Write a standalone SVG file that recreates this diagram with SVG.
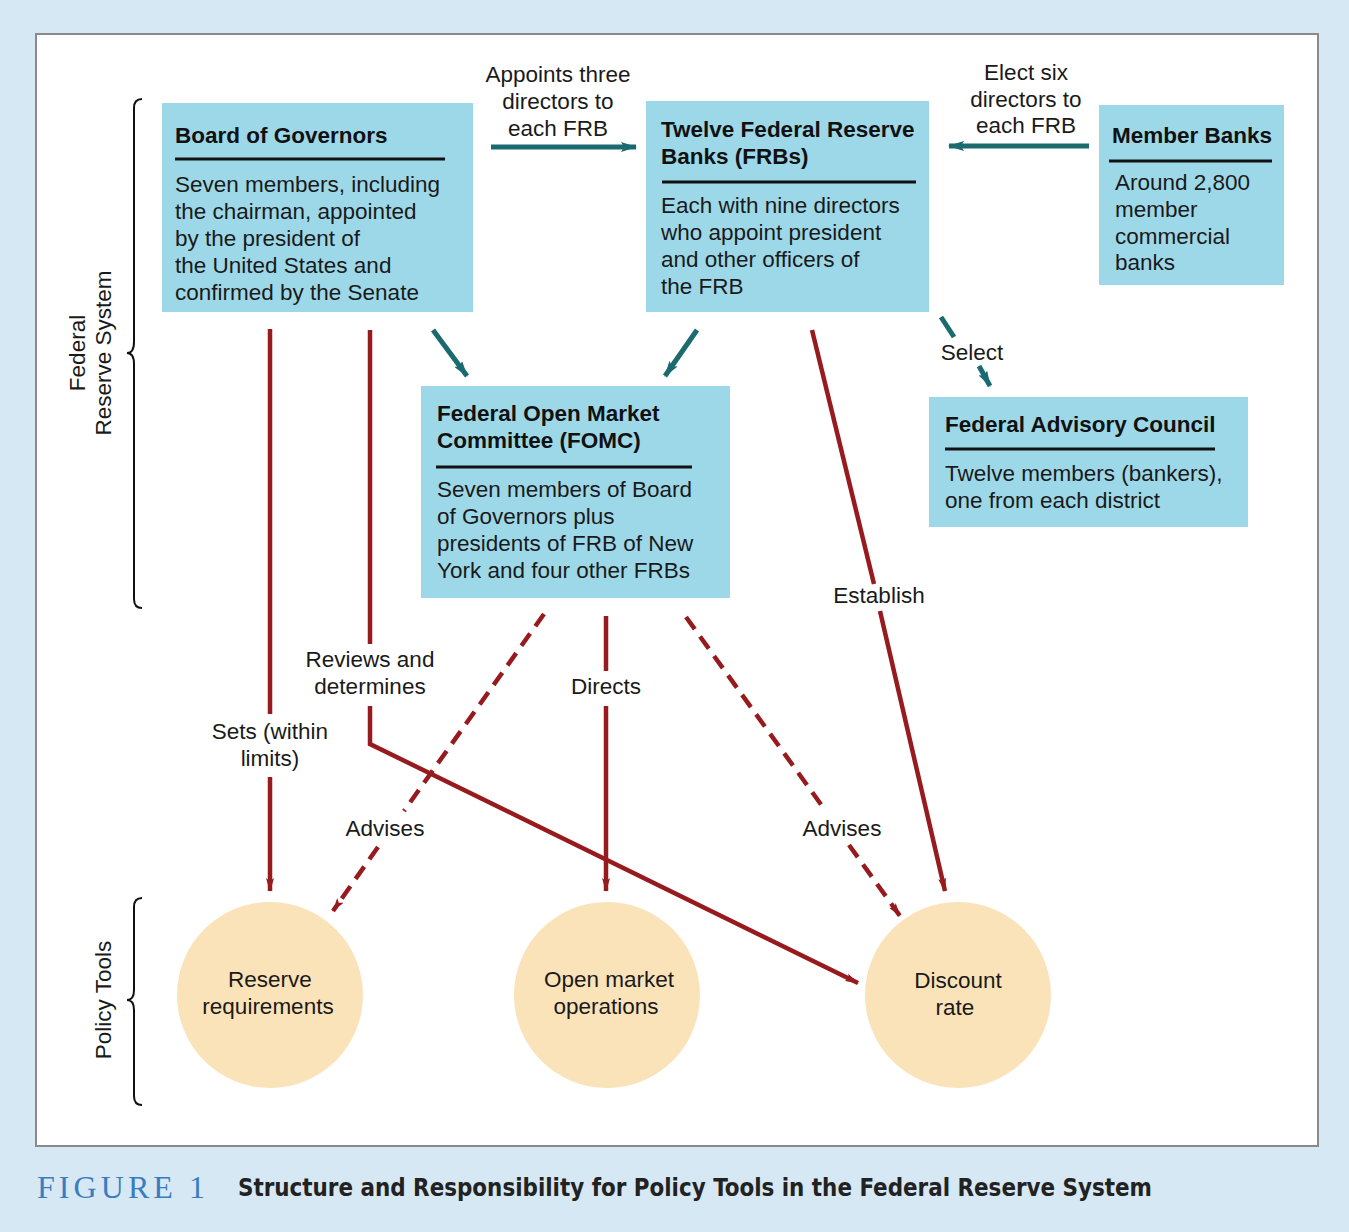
<svg xmlns="http://www.w3.org/2000/svg" width="1349" height="1232" viewBox="0 0 1349 1232">
<defs>
<style>
.box{fill:#9dd8e8}
.tool{fill:#fae3b9}
.t{font-family:"Liberation Sans",Arial,sans-serif;font-size:22.5px;fill:#1a1a1a}
.b{font-family:"Liberation Sans",Arial,sans-serif;font-size:22.5px;font-weight:bold;fill:#111}
.c{text-anchor:middle}
.rule{stroke:#111;stroke-width:3}
.red{stroke:#971b1e;stroke-width:4.5;fill:none}
.dash{stroke-dasharray:15 9}
.teal{stroke:#1a6a70;stroke-width:5;fill:none}
.brace{stroke:#111;stroke-width:2;fill:none}
</style>
<marker id="ar" markerWidth="14" markerHeight="8" refX="13" refY="4" orient="auto" markerUnits="userSpaceOnUse">
<path d="M0,0 L14,4 L0,8 L3,4 Z" fill="#971b1e"/>
</marker>
<marker id="at" markerWidth="16" markerHeight="10" refX="15" refY="5" orient="auto" markerUnits="userSpaceOnUse">
<path d="M0,0 L16,5 L0,10 L3,5 Z" fill="#1a6a70"/>
</marker>
</defs>
<rect x="0" y="0" width="1349" height="1232" fill="#d6e8f3"/>
<rect x="36" y="34" width="1282" height="1112" fill="#fff" stroke="#8a8a8a" stroke-width="2"/>

<g id="braces">
<path class="brace" d="M142,99 Q134,99 134,108 L134,342 Q134,353 127,353 Q134,353 134,364 L134,599 Q134,608 142,608"/>
<path class="brace" d="M142,898 Q134,898 134,907 L134,990 Q134,1000 127,1000 Q134,1000 134,1010 L134,1096 Q134,1105 142,1105"/>
<text class="t c" transform="translate(85,353) rotate(-90)">Federal</text>
<text class="t c" transform="translate(111,353) rotate(-90)">Reserve System</text>
<text class="t c" transform="translate(111,1000) rotate(-90)">Policy Tools</text>
</g>

<g id="connectors">
<line class="teal" x1="491" y1="147" x2="636" y2="147" marker-end="url(#at)"/>
<line class="teal" x1="1089" y1="146" x2="949" y2="146" marker-end="url(#at)"/>
<line class="teal" x1="433" y1="330" x2="467" y2="376" marker-end="url(#at)"/>
<line class="teal" x1="697" y1="330" x2="665" y2="376" marker-end="url(#at)"/>
<line class="teal" x1="941" y1="317" x2="954" y2="337"/>
<line class="teal" x1="979" y1="366" x2="990" y2="386" marker-end="url(#at)"/>

<line class="red" x1="270" y1="329" x2="270" y2="714"/>
<line class="red" x1="270" y1="777" x2="270" y2="891" marker-end="url(#ar)"/>
<line class="red" x1="370" y1="330" x2="370" y2="644"/>
<polyline class="red" points="370,706 370,744 858,983" marker-end="url(#ar)"/>
<line class="red" x1="606" y1="616" x2="606" y2="671"/>
<line class="red" x1="606" y1="706" x2="606" y2="891" marker-end="url(#ar)"/>
<line class="red" x1="812" y1="330" x2="874" y2="584"/>
<line class="red" x1="880" y1="611" x2="945" y2="891" marker-end="url(#ar)"/>
<line class="red dash" x1="544" y1="614" x2="404" y2="811"/>
<line class="red dash" x1="378" y1="847" x2="333" y2="911" marker-end="url(#ar)"/>
<line class="red dash" x1="686" y1="617" x2="825" y2="810"/>
<line class="red dash" x1="849" y1="845" x2="900" y2="916" marker-end="url(#ar)"/>

<text class="t c" x="558" y="82">Appoints three</text>
<text class="t c" x="558" y="109">directors to</text>
<text class="t c" x="558" y="136">each FRB</text>
<text class="t c" x="1026" y="80">Elect six</text>
<text class="t c" x="1026" y="107">directors to</text>
<text class="t c" x="1026" y="133">each FRB</text>
<text class="t c" x="972" y="360">Select</text>
<text class="t c" x="270" y="739">Sets (within</text>
<text class="t c" x="270" y="766">limits)</text>
<text class="t c" x="370" y="667">Reviews and</text>
<text class="t c" x="370" y="694">determines</text>
<text class="t c" x="606" y="694">Directs</text>
<text class="t c" x="879" y="603">Establish</text>
<text class="t c" x="385" y="836">Advises</text>
<text class="t c" x="842" y="836">Advises</text>
</g>

<g id="board">
<rect class="box" x="162" y="103" width="311" height="209"/>
<text class="b" x="175" y="143">Board of Governors</text>
<line class="rule" x1="175" y1="159" x2="445" y2="159"/>
<text class="t" x="175" y="192">Seven members, including</text>
<text class="t" x="175" y="219">the chairman, appointed</text>
<text class="t" x="175" y="246">by the president of</text>
<text class="t" x="175" y="273">the United States and</text>
<text class="t" x="175" y="300">confirmed by the Senate</text>
</g>

<g id="frb">
<rect class="box" x="646" y="101" width="283" height="211"/>
<text class="b" x="661" y="137">Twelve Federal Reserve</text>
<text class="b" x="661" y="164">Banks (FRBs)</text>
<line class="rule" x1="662" y1="182" x2="916" y2="182"/>
<text class="t" x="661" y="213">Each with nine directors</text>
<text class="t" x="661" y="240">who appoint president</text>
<text class="t" x="661" y="267">and other officers of</text>
<text class="t" x="661" y="294">the FRB</text>
</g>

<g id="member">
<rect class="box" x="1099" y="105" width="185" height="180"/>
<text class="b" x="1112" y="143">Member Banks</text>
<line class="rule" x1="1109" y1="161" x2="1272" y2="161"/>
<text class="t" x="1115" y="190">Around 2,800</text>
<text class="t" x="1115" y="217">member</text>
<text class="t" x="1115" y="244">commercial</text>
<text class="t" x="1115" y="270">banks</text>
</g>

<g id="fomc">
<rect class="box" x="421" y="386" width="309" height="212"/>
<text class="b" x="437" y="421">Federal Open Market</text>
<text class="b" x="437" y="448">Committee (FOMC)</text>
<line class="rule" x1="436" y1="467" x2="692" y2="467"/>
<text class="t" x="437" y="497">Seven members of Board</text>
<text class="t" x="437" y="524">of Governors plus</text>
<text class="t" x="437" y="551">presidents of FRB of New</text>
<text class="t" x="437" y="578">York and four other FRBs</text>
</g>

<g id="fac">
<rect class="box" x="929" y="397" width="319" height="130"/>
<text class="b" x="945" y="432">Federal Advisory Council</text>
<line class="rule" x1="945" y1="449" x2="1215" y2="449"/>
<text class="t" x="945" y="481">Twelve members (bankers),</text>
<text class="t" x="945" y="508">one from each district</text>
</g>

<g id="reserve">
<circle class="tool" cx="270" cy="995" r="93"/>
<text class="t c" x="270" y="987">Reserve</text>
<text class="t c" x="268" y="1014">requirements</text>
</g>
<g id="omo">
<circle class="tool" cx="607" cy="995" r="93"/>
<text class="t c" x="609" y="987">Open market</text>
<text class="t c" x="606" y="1014">operations</text>
</g>
<g id="discount">
<circle class="tool" cx="958" cy="995" r="93"/>
<text class="t c" x="958" y="988">Discount</text>
<text class="t c" x="955" y="1015">rate</text>
</g>

<g id="caption">
<text x="37" y="1198" font-family="Liberation Serif,serif" font-size="32" fill="#3a7dbf" textLength="168" lengthAdjust="spacing">FIGURE 1</text>
<text x="238" y="1196" font-family="DejaVu Sans Condensed,DejaVu Sans,sans-serif" font-stretch="condensed" font-weight="bold" font-size="24" fill="#222" textLength="914" lengthAdjust="spacingAndGlyphs">Structure and Responsibility for Policy Tools in the Federal Reserve System</text>
</g>
</svg>
